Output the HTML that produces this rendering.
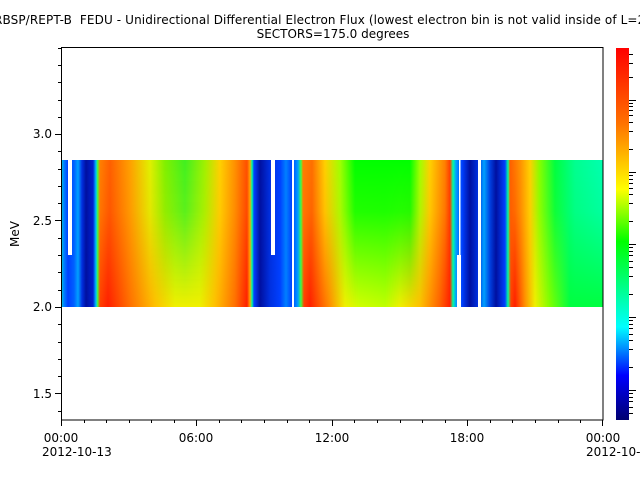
<!DOCTYPE html>
<html><head><meta charset="utf-8"><style>
html,body{margin:0;padding:0;background:#fff;}
svg{display:block;font-family:"DejaVu Sans","Liberation Sans",sans-serif;}
</style></head><body>
<svg width="640" height="480" viewBox="0 0 640 480" xmlns="http://www.w3.org/2000/svg">
<defs>
<linearGradient id="bot" x1="0" x2="1000" y1="0" y2="0" gradientUnits="userSpaceOnUse">
<stop offset="0.061" stop-color="#00d0d0"/><stop offset="0.064" stop-color="#0080ff"/><stop offset="0.068" stop-color="#0040ff"/>
<stop offset="0.074" stop-color="#0060ff"/><stop offset="0.078" stop-color="#00a0ff"/><stop offset="0.082" stop-color="#0030e0"/>
<stop offset="0.086" stop-color="#0010a0"/><stop offset="0.093" stop-color="#0020d0"/><stop offset="0.096" stop-color="#00c0ff"/>
<stop offset="0.0975" stop-color="#40ff40"/><stop offset="0.100" stop-color="#ff4000"/><stop offset="0.108" stop-color="#ff2000"/>
<stop offset="0.130" stop-color="#ff7000"/><stop offset="0.155" stop-color="#ffc000"/><stop offset="0.175" stop-color="#f0f000"/>
<stop offset="0.200" stop-color="#f0f000"/><stop offset="0.215" stop-color="#ffc000"/><stop offset="0.235" stop-color="#ff7000"/>
<stop offset="0.247" stop-color="#ff2000"/><stop offset="0.250" stop-color="#ffa000"/><stop offset="0.252" stop-color="#00ffa0"/>
<stop offset="0.254" stop-color="#0040ff"/><stop offset="0.260" stop-color="#0010a0"/><stop offset="0.270" stop-color="#0030e0"/>
<stop offset="0.280" stop-color="#0040ff"/><stop offset="0.286" stop-color="#0080ff"/><stop offset="0.292" stop-color="#0040ff"/>
<stop offset="0.298" stop-color="#00a0ff"/><stop offset="0.301" stop-color="#40ff40"/><stop offset="0.304" stop-color="#ff4000"/>
<stop offset="0.310" stop-color="#ff2000"/><stop offset="0.330" stop-color="#ff9000"/><stop offset="0.345" stop-color="#f0f000"/>
<stop offset="0.360" stop-color="#d0ff00"/><stop offset="0.385" stop-color="#c0ff00"/><stop offset="0.400" stop-color="#f0f000"/>
<stop offset="0.420" stop-color="#ffc000"/><stop offset="0.440" stop-color="#ff6000"/><stop offset="0.450" stop-color="#ff2000"/>
<stop offset="0.453" stop-color="#00ffa0"/><stop offset="0.456" stop-color="#00a0ff"/><stop offset="0.462" stop-color="#0040ff"/>
<stop offset="0.470" stop-color="#0010a0"/><stop offset="0.478" stop-color="#0030e0"/><stop offset="0.484" stop-color="#00a0ff"/>
<stop offset="0.490" stop-color="#0040e0"/><stop offset="0.496" stop-color="#0010a0"/><stop offset="0.505" stop-color="#0040ff"/>
<stop offset="0.508" stop-color="#00ffa0"/><stop offset="0.511" stop-color="#ff4000"/><stop offset="0.515" stop-color="#ff2000"/>
<stop offset="0.525" stop-color="#ff9000"/><stop offset="0.535" stop-color="#f0f000"/><stop offset="0.550" stop-color="#80ff00"/>
<stop offset="0.570" stop-color="#00ff40"/><stop offset="0.603" stop-color="#00ff40"/>
</linearGradient>
<linearGradient id="top" x1="0" x2="1000" y1="0" y2="0" gradientUnits="userSpaceOnUse">
<stop offset="0.061" stop-color="#00d0d0"/><stop offset="0.064" stop-color="#0080ff"/><stop offset="0.068" stop-color="#0040ff"/>
<stop offset="0.074" stop-color="#0060ff"/><stop offset="0.078" stop-color="#00a0ff"/><stop offset="0.082" stop-color="#0030e0"/>
<stop offset="0.086" stop-color="#0010a0"/><stop offset="0.093" stop-color="#0020d0"/><stop offset="0.096" stop-color="#00c0ff"/>
<stop offset="0.0975" stop-color="#40ff40"/><stop offset="0.100" stop-color="#ff8000"/><stop offset="0.110" stop-color="#ff6000"/>
<stop offset="0.130" stop-color="#ffa000"/><stop offset="0.150" stop-color="#e0f000"/><stop offset="0.165" stop-color="#80f000"/>
<stop offset="0.185" stop-color="#40f020"/><stop offset="0.205" stop-color="#a0f000"/><stop offset="0.220" stop-color="#ffd000"/>
<stop offset="0.235" stop-color="#ff9000"/><stop offset="0.247" stop-color="#ff5000"/><stop offset="0.250" stop-color="#ffa000"/>
<stop offset="0.252" stop-color="#00ffa0"/><stop offset="0.254" stop-color="#0040ff"/><stop offset="0.260" stop-color="#0010a0"/>
<stop offset="0.270" stop-color="#0030e0"/><stop offset="0.280" stop-color="#0040ff"/><stop offset="0.286" stop-color="#0080ff"/>
<stop offset="0.292" stop-color="#0040ff"/><stop offset="0.298" stop-color="#00a0ff"/><stop offset="0.301" stop-color="#40ff40"/>
<stop offset="0.303" stop-color="#ff8000"/><stop offset="0.312" stop-color="#ff7000"/><stop offset="0.325" stop-color="#ffd000"/>
<stop offset="0.340" stop-color="#a0ff00"/><stop offset="0.355" stop-color="#00ff00"/><stop offset="0.410" stop-color="#00ff00"/>
<stop offset="0.420" stop-color="#a0ff00"/><stop offset="0.430" stop-color="#ffd000"/><stop offset="0.445" stop-color="#ff8000"/>
<stop offset="0.450" stop-color="#ff4000"/><stop offset="0.453" stop-color="#00ffa0"/><stop offset="0.456" stop-color="#00a0ff"/>
<stop offset="0.462" stop-color="#0040ff"/><stop offset="0.470" stop-color="#0010a0"/><stop offset="0.478" stop-color="#0030e0"/>
<stop offset="0.484" stop-color="#00a0ff"/><stop offset="0.490" stop-color="#0040e0"/><stop offset="0.496" stop-color="#0010a0"/>
<stop offset="0.505" stop-color="#0040ff"/><stop offset="0.508" stop-color="#00ffa0"/><stop offset="0.510" stop-color="#ff6000"/>
<stop offset="0.520" stop-color="#ff9000"/><stop offset="0.530" stop-color="#ffd000"/><stop offset="0.540" stop-color="#80ff00"/>
<stop offset="0.555" stop-color="#00ff40"/><stop offset="0.575" stop-color="#00ff90"/><stop offset="0.603" stop-color="#00ffb0"/>
</linearGradient>
<linearGradient id="mg" x1="0" x2="0" y1="160" y2="307" gradientUnits="userSpaceOnUse">
<stop offset="0" stop-color="#fff"/><stop offset="0.35" stop-color="#fff" stop-opacity="0.85"/><stop offset="1" stop-color="#fff" stop-opacity="0"/>
</linearGradient>
<mask id="m" maskUnits="userSpaceOnUse" x="0" y="0" width="640" height="480">
<rect x="61" y="160" width="542" height="147" fill="url(#mg)"/>
</mask>
<linearGradient id="cb" x1="0" x2="0" y1="48" y2="420" gradientUnits="userSpaceOnUse">
<stop offset="0" stop-color="#ff0000"/>
<stop offset="0.2" stop-color="#ff7000"/>
<stop offset="0.38" stop-color="#ffff00"/>
<stop offset="0.52" stop-color="#00ff00"/>
<stop offset="0.75" stop-color="#00ffff"/>
<stop offset="0.88" stop-color="#0000ff"/>
<stop offset="1" stop-color="#000070"/>
</linearGradient>
</defs>
<text x="-6" y="24" font-size="12" xml:space="preserve" textLength="656" lengthAdjust="spacing">RBSP/REPT-B  FEDU - Unidirectional Differential Electron Flux (lowest electron bin is not valid inside of L=2)</text>
<text x="333" y="38" font-size="12" text-anchor="middle">SECTORS=175.0 degrees</text>
<rect x="61" y="160" width="542" height="147" fill="url(#bot)"/>
<rect x="61" y="160" width="542" height="147" fill="url(#top)" mask="url(#m)"/>
<g fill="#fff">
<rect x="68" y="160" width="4" height="95"/>
<rect x="271" y="160" width="4" height="95"/>
<rect x="292" y="160" width="2" height="147"/>
<rect x="459" y="160" width="1.5" height="147"/>
<rect x="457" y="255" width="4" height="52"/>
<rect x="478" y="160" width="3" height="147"/>
</g>
<rect x="61.5" y="47.5" width="541.5" height="372.5" fill="none" stroke="#000" stroke-width="1"/>
<g stroke="#000" stroke-width="1">
<line x1="55" y1="134.5" x2="61" y2="134.5"/><line x1="55" y1="220.5" x2="61" y2="220.5"/>
<line x1="55" y1="307.5" x2="61" y2="307.5"/><line x1="55" y1="393.5" x2="61" y2="393.5"/>
<line x1="58" y1="48.5" x2="61" y2="48.5"/><line x1="58" y1="65.5" x2="61" y2="65.5"/><line x1="58" y1="82.5" x2="61" y2="82.5"/><line x1="58" y1="100.5" x2="61" y2="100.5"/><line x1="58" y1="117.5" x2="61" y2="117.5"/>
<line x1="58" y1="151.5" x2="61" y2="151.5"/><line x1="58" y1="169.5" x2="61" y2="169.5"/><line x1="58" y1="186.5" x2="61" y2="186.5"/><line x1="58" y1="203.5" x2="61" y2="203.5"/>
<line x1="58" y1="238.5" x2="61" y2="238.5"/><line x1="58" y1="255.5" x2="61" y2="255.5"/><line x1="58" y1="272.5" x2="61" y2="272.5"/><line x1="58" y1="290.5" x2="61" y2="290.5"/>
<line x1="58" y1="324.5" x2="61" y2="324.5"/><line x1="58" y1="342.5" x2="61" y2="342.5"/><line x1="58" y1="359.5" x2="61" y2="359.5"/><line x1="58" y1="376.5" x2="61" y2="376.5"/>
<line x1="58" y1="411.5" x2="61" y2="411.5"/>
<line x1="61.5" y1="420" x2="61.5" y2="426"/><line x1="196.5" y1="420" x2="196.5" y2="426"/><line x1="332.5" y1="420" x2="332.5" y2="426"/><line x1="467.5" y1="420" x2="467.5" y2="426"/><line x1="602.5" y1="420" x2="602.5" y2="426"/>
<line x1="84.5" y1="420" x2="84.5" y2="423"/><line x1="106.5" y1="420" x2="106.5" y2="423"/><line x1="129.5" y1="420" x2="129.5" y2="423"/><line x1="151.5" y1="420" x2="151.5" y2="423"/><line x1="174.5" y1="420" x2="174.5" y2="423"/>
<line x1="219.5" y1="420" x2="219.5" y2="423"/><line x1="241.5" y1="420" x2="241.5" y2="423"/><line x1="264.5" y1="420" x2="264.5" y2="423"/><line x1="287.5" y1="420" x2="287.5" y2="423"/><line x1="309.5" y1="420" x2="309.5" y2="423"/>
<line x1="354.5" y1="420" x2="354.5" y2="423"/><line x1="377.5" y1="420" x2="377.5" y2="423"/><line x1="400.5" y1="420" x2="400.5" y2="423"/><line x1="422.5" y1="420" x2="422.5" y2="423"/><line x1="445.5" y1="420" x2="445.5" y2="423"/>
<line x1="490.5" y1="420" x2="490.5" y2="423"/><line x1="512.5" y1="420" x2="512.5" y2="423"/><line x1="535.5" y1="420" x2="535.5" y2="423"/><line x1="558.5" y1="420" x2="558.5" y2="423"/><line x1="580.5" y1="420" x2="580.5" y2="423"/>
</g>
<g font-size="12" text-anchor="end">
<text x="52" y="138">3.0</text><text x="52" y="225">2.5</text><text x="52" y="311">2.0</text><text x="52" y="398">1.5</text>
</g>
<text transform="translate(19,234) rotate(-90)" font-size="12" text-anchor="middle">MeV</text>
<g font-size="12" text-anchor="middle">
<text x="61" y="442">00:00</text><text x="196" y="442">06:00</text><text x="332" y="442">12:00</text><text x="467" y="442">18:00</text><text x="603" y="442">00:00</text>
</g>
<text x="42" y="456" font-size="12">2012-10-13</text>
<text x="586" y="456" font-size="12">2012-10-14</text>
<rect x="616" y="48" width="13" height="372" fill="url(#cb)"/>
<g stroke="#000" stroke-width="1">
<line x1="629" y1="100.5" x2="636" y2="100.5"/><line x1="629" y1="172.5" x2="636" y2="172.5"/><line x1="629" y1="244.5" x2="636" y2="244.5"/><line x1="629" y1="317.5" x2="636" y2="317.5"/><line x1="629" y1="390.5" x2="636" y2="390.5"/>
<line x1="629" y1="54.5" x2="633" y2="54.5"/><line x1="629" y1="63.5" x2="633" y2="63.5"/><line x1="629" y1="77.5" x2="633" y2="77.5"/>
<line x1="629" y1="103.5" x2="633" y2="103.5"/><line x1="629" y1="106.5" x2="633" y2="106.5"/><line x1="629" y1="110.5" x2="633" y2="110.5"/><line x1="629" y1="115.5" x2="633" y2="115.5"/><line x1="629" y1="122.5" x2="633" y2="122.5"/><line x1="629" y1="131.5" x2="633" y2="131.5"/><line x1="629" y1="149.5" x2="633" y2="149.5"/>
<line x1="629" y1="175.5" x2="633" y2="175.5"/><line x1="629" y1="179.5" x2="633" y2="179.5"/><line x1="629" y1="183.5" x2="633" y2="183.5"/><line x1="629" y1="188.5" x2="633" y2="188.5"/><line x1="629" y1="194.5" x2="633" y2="194.5"/><line x1="629" y1="203.5" x2="633" y2="203.5"/><line x1="629" y1="221.5" x2="633" y2="221.5"/>
<line x1="629" y1="247.5" x2="633" y2="247.5"/><line x1="629" y1="251.5" x2="633" y2="251.5"/><line x1="629" y1="255.5" x2="633" y2="255.5"/><line x1="629" y1="261.5" x2="633" y2="261.5"/><line x1="629" y1="267.5" x2="633" y2="267.5"/><line x1="629" y1="276.5" x2="633" y2="276.5"/><line x1="629" y1="294.5" x2="633" y2="294.5"/>
<line x1="629" y1="320.5" x2="633" y2="320.5"/><line x1="629" y1="324.5" x2="633" y2="324.5"/><line x1="629" y1="328.5" x2="633" y2="328.5"/><line x1="629" y1="334.5" x2="633" y2="334.5"/><line x1="629" y1="340.5" x2="633" y2="340.5"/><line x1="629" y1="349.5" x2="633" y2="349.5"/><line x1="629" y1="367.5" x2="633" y2="367.5"/>
<line x1="629" y1="393.5" x2="633" y2="393.5"/><line x1="629" y1="397.5" x2="633" y2="397.5"/><line x1="629" y1="401.5" x2="633" y2="401.5"/><line x1="629" y1="407.5" x2="633" y2="407.5"/><line x1="629" y1="413.5" x2="633" y2="413.5"/>
</g>
</svg>
</body></html>
